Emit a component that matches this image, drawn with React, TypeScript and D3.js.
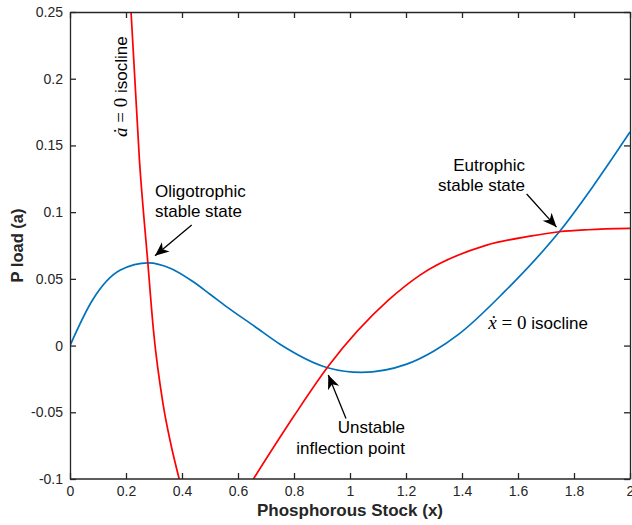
import React, { useEffect, useRef } from 'react';
import * as d3 from 'd3';

const W = 632, H = 525;
const plot = { left: 70, right: 630, top: 12, bottom: 479 };

// tick values
const xTicks = [0, 0.2, 0.4, 0.6, 0.8, 1, 1.2, 1.4, 1.6, 1.8, 2];
const yTicks = [-0.1, -0.05, 0, 0.05, 0.1, 0.15, 0.2, 0.25];

// x-dot = 0 isocline (blue)
const blueX = [0, 0.08, 0.18, 0.28, 0.36, 0.44, 0.5, 0.56, 0.66, 0.75, 0.92, 1.04, 1.2, 1.3, 1.39, 1.55, 1.7, 1.7475, 1.87, 2.0];
const blueY = [0, 0.034, 0.0566, 0.062, 0.0578, 0.0478, 0.0385, 0.029, 0.0143, 0.001, -0.0166, -0.0201, -0.0141, -0.004, 0.0088, 0.04, 0.0735, 0.0853, 0.12, 0.16];

// a-dot = 0 isocline (red), two visible branches
const redLeftX = [0.218, 0.248, 0.278, 0.298, 0.333, 0.357, 0.39];
const redLeftY = [0.25, 0.139, 0.062, 0.0116, -0.0446, -0.0708, -0.1];
const redRightX = [0.655, 0.798, 0.925, 1.137, 1.25, 1.488, 1.643, 1.7475, 1.85, 2.0];
const redRightY = [-0.1, -0.0534, -0.0148, 0.034, 0.0528, 0.0753, 0.082, 0.0853, 0.0868, 0.0878];

const FONT = '"Liberation Sans", Arial, Helvetica, sans-serif';
const SERIF = '"Liberation Serif", "Times New Roman", serif';
const AX = '#262626';

const x = d3.scaleLinear().domain([0, 2]).range([plot.left, plot.right]);
const y = d3.scaleLinear().domain([-0.1, 0.25]).range([plot.bottom, plot.top]);

const zip = (xs: number[], ys: number[]) => xs.map((v, i) => [v, ys[i]] as [number, number]);

const line = d3.line<[number, number]>()
  .x(d => x(d[0]))
  .y(d => y(d[1]))
  .curve(d3.curveMonotoneX);

function Arrow({ from, to }: { from: [number, number]; to: [number, number] }) {
  return <line x1={x(from[0])} y1={y(from[1])} x2={x(to[0])} y2={y(to[1])}
    stroke="#000" strokeWidth={1.3} markerEnd="url(#head)" />;
}

export default function App() {
  const gx = useRef<SVGGElement>(null);
  const gy = useRef<SVGGElement>(null);
  const gt = useRef<SVGGElement>(null);
  const gr = useRef<SVGGElement>(null);

  useEffect(() => {
    const style = (g: d3.Selection<SVGGElement, unknown, null, undefined>) => {
      g.selectAll('path').attr('stroke', AX).attr('stroke-width', 1.3);
      g.selectAll('line').attr('stroke', AX).attr('stroke-width', 1.3);
      g.selectAll('text').attr('fill', AX).attr('font-size', 14).attr('font-family', FONT);
    };
    d3.select(gx.current!).call(
      d3.axisBottom(x).tickValues(xTicks).tickSizeInner(-6).tickSizeOuter(0).tickPadding(7).tickFormat(d => String(d))
    ).call(style);
    d3.select(gy.current!).call(
      d3.axisLeft(y).tickValues(yTicks).tickSizeInner(-6).tickSizeOuter(0).tickPadding(7).tickFormat(d => String(d))
    ).call(style);
    d3.select(gt.current!).call(
      d3.axisTop(x).tickValues(xTicks).tickSizeInner(-6).tickSizeOuter(0).tickFormat(() => '')
    ).call(style);
    d3.select(gr.current!).call(
      d3.axisRight(y).tickValues(yTicks).tickSizeInner(-6).tickSizeOuter(0).tickFormat(() => '')
    ).call(style);
    d3.select(gx.current!).selectAll('.domain').remove();
  }, []);

  const annot = { fontFamily: FONT, fontSize: 17, fill: '#000' };

  return (
    <div style={{ position: 'absolute', left: 0, top: 0 }}>
      <svg width={W} height={H} style={{ display: 'block', background: '#fff' }}>
        <defs>
          <clipPath id="plotclip">
            <rect x={plot.left} y={plot.top} width={plot.right - plot.left} height={plot.bottom - plot.top} />
          </clipPath>
          <marker id="head" viewBox="-15 -7 16 14" refX={0} refY={0} markerWidth={16} markerHeight={14}
            markerUnits="userSpaceOnUse" orient="auto">
            <path d="M0,0 L-14,-6 L-10,0 L-14,6 Z" fill="#000" />
          </marker>
        </defs>

        <rect x={plot.left} y={plot.top} width={plot.right - plot.left} height={plot.bottom - plot.top} fill="#fff" />

        <g clipPath="url(#plotclip)" fill="none" strokeWidth={1.7}>
          <path d={line(zip(blueX, blueY)) || ''} stroke="#0072BD" />
          <path d={line(zip(redLeftX, redLeftY)) || ''} stroke="#FF0000" />
          <path d={line(zip(redRightX, redRightY)) || ''} stroke="#FF0000" />
        </g>

        <g ref={gx} transform={`translate(0,${plot.bottom})`} />
        <g ref={gy} transform={`translate(${plot.left},0)`} />
        <g ref={gt} transform={`translate(0,${plot.top})`} />
        <g ref={gr} transform={`translate(${plot.right},0)`} />
        <line x1={plot.left} x2={plot.right} y1={plot.bottom} y2={plot.bottom} stroke={AX} strokeWidth={1.3} />

        {/* annotations */}
        <text {...annot} x={x(0.3036)} y={y(0.1112)}>Oligotrophic</text>
        <text {...annot} x={x(0.3036)} y={y(0.0961)}>stable state</text>
        <Arrow from={[0.4346, 0.0903]} to={[0.3036, 0.0673]} />

        <text {...annot} x={x(1.625)} y={y(0.131)} textAnchor="end">Eutrophic</text>
        <text {...annot} x={x(1.625)} y={y(0.1158)} textAnchor="end">stable state</text>
        <Arrow from={[1.631, 0.1136]} to={[1.7375, 0.0888]} />

        <text {...annot} x={x(1.196)} y={y(-0.0658)} textAnchor="end">Unstable</text>
        <text {...annot} x={x(1.196)} y={y(-0.0813)} textAnchor="end">inflection point</text>
        <Arrow from={[0.9857, -0.0546]} to={[0.9225, -0.0221]} />

        <text {...annot} x={x(1.494)} y={y(0.0121)}>
          <tspan fontFamily={SERIF} fontStyle="italic" fontSize={19}>ẋ</tspan>
          <tspan fontFamily={SERIF} fontSize={19}> = 0 </tspan>
          <tspan>isocline</tspan>
        </text>

        <text {...annot} transform={`translate(${x(0.2036)},${y(0.1563)}) rotate(-90)`}>
          <tspan fontFamily={SERIF} fontStyle="italic" fontSize={19}>ȧ</tspan>
          <tspan fontFamily={SERIF} fontSize={19}> = 0 </tspan>
          <tspan>isocline</tspan>
        </text>

        {/* axis labels */}
        <text x={(plot.left + plot.right) / 2} y={516} textAnchor="middle" fontFamily={FONT}
          fontWeight="bold" fontSize={17} fill={AX}>Phosphorous Stock (x)</text>
        <text transform={`translate(23,${(plot.top + plot.bottom) / 2}) rotate(-90)`} textAnchor="middle"
          fontFamily={FONT} fontWeight="bold" fontSize={16.5} fill={AX}>P load (a)</text>
      </svg>
    </div>
  );
}
